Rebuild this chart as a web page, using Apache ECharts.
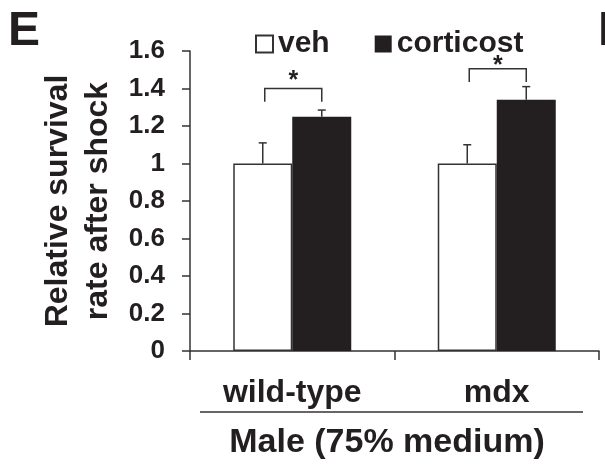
<!DOCTYPE html>
<html>
<head>
<meta charset="utf-8">
<script src="https://cdn.jsdelivr.net/npm/echarts@6/dist/echarts.min.js"></script>
<style>
html,body{margin:0;padding:0;background:#fff;}
#chart{width:605px;height:466px;}
</style>
</head>
<body>
<div id="chart"></div>
<script>
var categories = ['wild-type', 'mdx'];
var seriesNames = ['veh', 'corticost'];
var vehValues = [1.0, 1.0];
var vehErrors = [0.11, 0.10];
var corticostValues = [1.25, 1.34];
var corticostErrors = [0.035, 0.07];
// significance brackets: [categoryIndex, topValue, legValue, starValue]
var brackets = [[0, 1.40, 1.33, 1.437], [1, 1.505, 1.435, 1.522]];
var yTicks = [0, 0.2, 0.4, 0.6, 0.8, 1, 1.2, 1.4, 1.6];
var groupLabel = 'Male (75% medium)';

var FONT = '"Liberation Sans", Arial, Helvetica, sans-serif';
var INK = '#231f20';
var BAR_W = 59;

var chart = echarts.init(document.getElementById('chart'), null, {renderer: 'canvas'});

var errData = [];
for (var i = 0; i < categories.length; i++) {
  errData.push([i, vehValues[i], vehValues[i] + vehErrors[i], -1]);
  errData.push([i, corticostValues[i], corticostValues[i] + corticostErrors[i], 1]);
}

function renderError(params, api) {
  var c = api.value(0);
  var side = api.value(3);
  var base = api.coord([c, api.value(1)]);
  var top = api.coord([c, api.value(2)]);
  var x = base[0] + side * BAR_W / 2;
  var cap = 4;
  var st = {stroke: '#333', lineWidth: 1.5};
  return {
    type: 'group',
    children: [
      {type: 'line', shape: {x1: x, y1: base[1], x2: x, y2: top[1]}, style: st},
      {type: 'line', shape: {x1: x - cap, y1: top[1], x2: x + cap, y2: top[1]}, style: st}
    ]
  };
}

function renderBracket(params, api) {
  var c = api.value(0);
  var t = api.coord([c, api.value(1)]);
  var l = api.coord([c, api.value(2)]);
  var s = api.coord([c, api.value(3)]);
  var x1 = t[0] - BAR_W / 2 + 2, x2 = t[0] + BAR_W / 2;
  var st = {stroke: '#333', lineWidth: 1.5, fill: null};
  return {
    type: 'group',
    children: [
      {type: 'polyline', shape: {points: [[x1, l[1]], [x1, t[1]], [x2, t[1]], [x2, l[1]]]}, style: st},
      {type: 'text', style: {text: '*', x: t[0] + 1, y: s[1], align: 'center', verticalAlign: 'middle',
        font: 'bold 25px ' + FONT, fill: INK}}
    ]
  };
}

var option = {
  animation: false,
  backgroundColor: '#fff',
  textStyle: {fontFamily: FONT, color: INK},
  grid: {left: 190, right: 6, top: 51, bottom: 115, containLabel: false},
  legend: {
    data: seriesNames,
    left: 255, top: 29, padding: 0,
    itemWidth: 17, itemHeight: 17, itemGap: 45,
    icon: 'rect',
    textStyle: {fontSize: 30, fontWeight: 'bold', color: INK, fontFamily: FONT}
  },
  xAxis: {
    type: 'category',
    data: categories,
    axisLine: {lineStyle: {color: '#333', width: 1.5}},
    axisTick: {show: true, length: 9, inside: false, lineStyle: {color: '#333', width: 1.5}},
    axisLabel: {fontSize: 32, fontWeight: 'bold', color: INK, margin: 26, fontFamily: FONT},
    splitLine: {show: false}
  },
  yAxis: {
    type: 'value',
    min: 0, max: 1.6, interval: 0.2,
    name: 'Relative survival\nrate after shock',
    nameLocation: 'middle',
    nameGap: 72,
    nameRotate: 90,
    nameTextStyle: {fontSize: 32, fontWeight: 'bold', color: INK, lineHeight: 40, fontFamily: FONT},
    axisLine: {show: true, lineStyle: {color: '#333', width: 1.5}},
    axisTick: {show: true, length: 8, inside: false, lineStyle: {color: '#333', width: 1.5}},
    axisLabel: {
      fontSize: 26, fontWeight: 'bold', color: INK, margin: 25, fontFamily: FONT,
      formatter: function (v) {
        for (var k = 0; k < yTicks.length; k++) {
          if (Math.abs(yTicks[k] - v) < 1e-6) return String(yTicks[k]);
        }
        return '';
      }
    },
    splitLine: {show: false}
  },
  series: [
    {
      name: seriesNames[0], type: 'bar', data: vehValues, barWidth: BAR_W, barGap: '0%',
      itemStyle: {color: '#fff', borderColor: '#333', borderWidth: 1.5}
    },
    {
      name: seriesNames[1], type: 'bar', data: corticostValues, barWidth: BAR_W, barGap: '0%',
      itemStyle: {color: INK, borderColor: INK, borderWidth: 0}
    },
    {
      type: 'custom', name: 'err', data: errData, renderItem: renderError, z: 5,
      encode: {x: 0, y: [1, 2]}, silent: true
    },
    {
      type: 'custom', name: 'sig', data: brackets, renderItem: renderBracket, z: 5,
      encode: {x: 0, y: [1, 2, 3]}, silent: true
    }
  ],
  graphic: [
    {type: 'text', left: 8, top: 8, style: {text: 'E', font: 'bold 48px ' + FONT, fill: INK}},
    {type: 'text', left: 598, top: 8, style: {text: 'F', font: 'bold 48px ' + FONT, fill: INK}},
    {type: 'line', shape: {x1: 200, y1: 412, x2: 583, y2: 412}, style: {stroke: '#333', lineWidth: 1.5}},
    {type: 'text', x: 387, y: 443, style: {text: groupLabel, align: 'center', verticalAlign: 'middle',
      font: 'bold 34px ' + FONT, fill: INK}}
  ]
};
chart.setOption(option);
</script>
</body>
</html>
